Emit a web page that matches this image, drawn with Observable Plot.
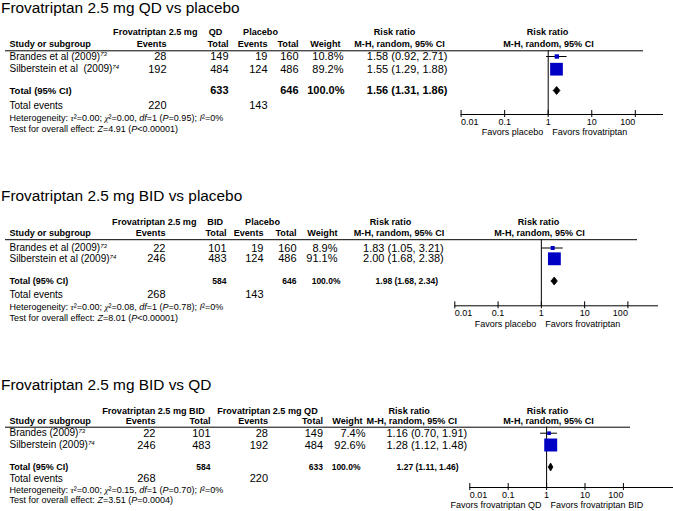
<!DOCTYPE html>
<html><head><meta charset="utf-8">
<script src="https://cdn.jsdelivr.net/npm/d3@7"></script>
<script src="https://cdn.jsdelivr.net/npm/@observablehq/plot@0.6"></script>
<style>
html,body{margin:0;padding:0;background:#fff;}
#chart{width:673px;height:511px;overflow:hidden;background:#fff;}
#chart svg{display:block;}
</style></head><body><div id="chart"></div>
<script>
// ---------------- DATA ----------------
const panelTitles = ["Frovatriptan 2.5 mg QD vs placebo", "Frovatriptan 2.5 mg BID vs placebo", "Frovatriptan 2.5 mg BID vs QD"];
const groupHeaders = [["Frovatriptan 2.5 mg", "QD", "Placebo"], ["Frovatriptan 2.5 mg", "BID", "Placebo"], ["Frovatriptan 2.5 mg BID", "Frovatriptan 2.5 mg QD"]];
const columnHeaders = ["Study or subgroup", "Events", "Total", "Events", "Total", "Weight", "M-H, random, 95% CI"];
const effectHeader = "Risk ratio";
const studyNames = [
  ["Brandes et al (2009)^73^", "Silberstein et al\u00a0 (2009)^74^"],
  ["Brandes et al (2009)^73^", "Silberstein et al (2009)^74^"],
  ["Brandes (2009)^73^", "Silberstein (2009)^74^"]
];
const expEvents = [[28, 192], [22, 246], [22, 246]];
const expTotals = [[149, 484], [101, 483], [101, 483]];
const ctlEvents = [[19, 124], [19, 124], [28, 192]];
const ctlTotals = [[160, 486], [160, 486], [149, 484]];
const weights = [[10.8, 89.2], [8.9, 91.1], [7.4, 92.6]];
const riskRatios = [[1.58, 1.55], [1.83, 2.00], [1.16, 1.28]];
const ciLower = [[0.92, 1.29], [1.05, 1.68], [0.70, 1.12]];
const ciUpper = [[2.71, 1.88], [3.21, 2.38], [1.91, 1.48]];
const pooledRR = [1.56, 1.98, 1.27];
const pooledLower = [1.31, 1.68, 1.11];
const pooledUpper = [1.86, 2.34, 1.46];
const totalWeight = [100.0, 100.0, 100.0];
const totalExpN = [633, 584, 584];
const totalCtlN = [646, 646, 633];
const totalExpEvents = [220, 268, 268];
const totalCtlEvents = [143, 143, 220];
const heterogeneity = [
  "Heterogeneity: #\u03c4#\u00b2=0.00; #\u03c7#\u00b2=0.00, *df*=1 (*P*=0.95); *I*\u00b2=0%",
  "Heterogeneity: #\u03c4#\u00b2=0.00; #\u03c7#\u00b2=0.08, *df*=1 (*P*=0.78); *I*\u00b2=0%",
  "Heterogeneity: #\u03c4#\u00b2=0.00; #\u03c7#\u00b2=0.15, *df*=1 (*P*=0.70); *I*\u00b2=0%"
];
const overallEffect = [
  "Test for overall effect: *Z*=4.91 (*P*<0.00001)",
  "Test for overall effect: *Z*=8.01 (*P*<0.00001)",
  "Test for overall effect: *Z*=3.51 (*P*=0.0004)"
];
const favorsLabels = [["Favors placebo", "Favors frovatriptan"], ["Favors placebo", "Favors frovatriptan"], ["Favors frovatriptan QD", "Favors frovatriptan BID"]];
const tickValues = [0.01, 0.1, 1, 10, 100];
const tickLabels = ["0.01", "0.1", "1", "10", "100"];

// ---------------- LAYOUT (positions / styles) ----------------
const FONT = '"Liberation Sans", Arial, Helvetica, sans-serif';
const SZ = {title: 15.4, head: 9.1, name: 10, num: 11, note: 9, tick: 9, favors: 9};
const SQUARE = "#0000c4";
const layouts = [
  {top: 0, height: 186, title: 7.5, h1: 31.7, h2: 43.3, line: 50.3, rows: [56, 68.7], total: 90, events: 105, het: 117.5, test: 128.3,
   axis: 114, tickY: 121.5, favorsY: 131.7, xRange: [460.6, 634.8], axisEnd: 663, lineX: [5, 643],
   grp: [[197, "end"], [215, "middle"], [260, "middle"]],
   c: {name: 9, expEv: 166, expTot: 228, ctlEv: 267, ctlTot: 298, wHead: 340, w: 343, totW: 344, rrH1: 394, rrH2: 399, rr: 447, totRR: 447, fH: 547},
   totSize: 11, totLabelSize: 9.5},
  {top: 186, height: 186, title: 195.5, h1: 221.3, h2: 232.3, line: 239.2, rows: [247.5, 258.3], total: 280.5, events: 294.3, het: 307, test: 317.3,
   axis: 305.3, tickY: 313, favorsY: 323.3, xRange: [454.3, 627.4], axisEnd: 658, lineX: [5, 637],
   grp: [[196, "end"], [214.7, "middle"], [262, "middle"]],
   c: {name: 9, expEv: 165, expTot: 226, ctlEv: 263, ctlTot: 296, wHead: 337, w: 337, totW: 340, rrH1: 390, rrH2: 398.5, rr: 443.3, totRR: 437.5, fH: 538},
   totSize: 8.5, totLabelSize: 9},
  {top: 372, height: 139, title: 385, h1: 410.3, h2: 421, line: 426.7, rows: [432.7, 444.5], total: 466.5, events: 478.3, het: 490, test: 500,
   axis: 487, tickY: 495, favorsY: 505, xRange: [469.3, 622.9], axisEnd: 673, lineX: [5, 630],
   grp: [[101.7, "start"], [216.7, "start"]],
   c: {name: 9, expEv: 155, expTot: 210, ctlEv: 267.5, ctlTot: 322.5, wHead: 362, w: 365, totW: 360, rrH1: 408.7, rrH2: 411.3, rr: 466.7, totRR: 458, fH: 547},
   totSize: 8.5, totLabelSize: 9}
];

const f2 = v => v.toFixed(2);
const rrText = (r, l, h) => `${f2(r)} (${f2(l)}, ${f2(h)})`;
const pct = w => w.toFixed(1) + "%";

function cell(t, y, px, anchor, size, weight = "normal") {
  return Plot.text([{t, y}], {text: "t", y: "y", frameAnchor: "left", dx: px, textAnchor: anchor,
    lineAnchor: "middle", fontSize: size, fontWeight: weight, fill: "#000"});
}

function buildPanel(i) {
  const L = layouts[i], c = L.c;
  const [r0, r1] = L.xRange;
  const xAt = px => Math.pow(10, -2 + 4 * (px - r0) / (r1 - r0)); // layout pixel -> x value
  const onePx = (r0 + r1) / 2;
  const marks = [];

  // title
  marks.push(cell(panelTitles[i], L.title, 0.5, "start", SZ.title));

  // group headers (row 1)
  groupHeaders[i].forEach((g, k) => marks.push(cell(g, L.h1, L.grp[k][0], L.grp[k][1], SZ.head, "bold")));
  marks.push(cell(effectHeader, L.h1, c.rrH1, "middle", SZ.head, "bold"));
  marks.push(cell(effectHeader, L.h1, c.fH, "middle", SZ.head, "bold"));

  // column headers (row 2)
  const hdrPos = [[c.name, "start"], [c.expEv, "end"], [c.expTot, "end"], [c.ctlEv, "end"], [c.ctlTot, "end"], [c.wHead, "end"], [c.rrH2, "middle"]];
  columnHeaders.forEach((h, k) => marks.push(cell(h, L.h2, hdrPos[k][0], hdrPos[k][1], SZ.head, "bold")));
  marks.push(cell(columnHeaders[6], L.h2, c.fH + 1, "middle", SZ.head, "bold"));

  // study rows
  studyNames[i].forEach((name, j) => {
    const y = L.rows[j];
    marks.push(cell(name, y, c.name, "start", SZ.name));
    marks.push(cell(String(expEvents[i][j]), y, c.expEv, "end", SZ.num));
    marks.push(cell(String(expTotals[i][j]), y, c.expTot, "end", SZ.num));
    marks.push(cell(String(ctlEvents[i][j]), y, c.ctlEv, "end", SZ.num));
    marks.push(cell(String(ctlTotals[i][j]), y, c.ctlTot, "end", SZ.num));
    marks.push(cell(pct(weights[i][j]), y, c.w, "end", SZ.num));
    marks.push(cell(rrText(riskRatios[i][j], ciLower[i][j], ciUpper[i][j]), y, c.rr, "end", SZ.num));
  });

  // total row
  marks.push(cell("Total (95% CI)", L.total, c.name, "start", L.totLabelSize, "bold"));
  marks.push(cell(String(totalExpN[i]), L.total, c.expTot, "end", L.totSize, "bold"));
  marks.push(cell(String(totalCtlN[i]), L.total, c.ctlTot, "end", L.totSize, "bold"));
  marks.push(cell(pct(totalWeight[i]), L.total, c.totW, "end", L.totSize, "bold"));
  marks.push(cell(rrText(pooledRR[i], pooledLower[i], pooledUpper[i]), L.total, c.totRR, "end", L.totSize, "bold"));

  // total events
  marks.push(cell("Total events", L.events, c.name, "start", SZ.name));
  marks.push(cell(String(totalExpEvents[i]), L.events, c.expEv, "end", SZ.num));
  marks.push(cell(String(totalCtlEvents[i]), L.events, c.ctlEv, "end", SZ.num));

  // notes
  marks.push(cell(heterogeneity[i], L.het, c.name, "start", SZ.note));
  marks.push(cell(overallEffect[i], L.test, c.name, "start", SZ.note));

  // header rule
  marks.push(Plot.ruleY([L.line], {x1: () => xAt(L.lineX[0]), x2: () => xAt(L.lineX[1]), stroke: "#000", strokeWidth: 1}));

  // forest: line of no effect, axis, ticks
  marks.push(Plot.ruleX([1], {y1: () => L.line, y2: () => L.axis, stroke: "#000", strokeWidth: 1}));
  marks.push(Plot.ruleY([L.axis], {x1: () => tickValues[0], x2: () => xAt(L.axisEnd), stroke: "#000", strokeWidth: 1}));
  marks.push(Plot.ruleX(tickValues, {y1: () => L.axis - 4, y2: () => L.axis + 3, stroke: "#000", strokeWidth: 1}));
  const tks = tickValues.map((v, k) => ({v, t: tickLabels[k], y: L.tickY}));
  const last = tks.length - 1;
  marks.push(Plot.text(tks.slice(0, 1), {x: "v", y: "y", text: "t", textAnchor: "start", fontSize: SZ.tick, fill: "#000"}));
  marks.push(Plot.text(tks.slice(1, last), {x: "v", y: "y", text: "t", textAnchor: "middle", fontSize: SZ.tick, fill: "#000"}));
  marks.push(Plot.text(tks.slice(last), {x: "v", y: "y", text: "t", textAnchor: "end", fontSize: SZ.tick, fill: "#000"}));
  marks.push(cell(favorsLabels[i][0], L.favorsY, onePx - 5, "end", SZ.favors));
  marks.push(cell(favorsLabels[i][1], L.favorsY, onePx + 4, "start", SZ.favors));

  // study estimates
  const studies = studyNames[i].map((_, j) => ({rr: riskRatios[i][j], lo: ciLower[i][j], hi: ciUpper[i][j], w: weights[i][j], y: L.rows[j]}));
  marks.push(Plot.ruleY(studies, {y: "y", x1: "lo", x2: "hi", stroke: "#000", strokeWidth: 1}));
  marks.push(Plot.dot(studies, {x: "rr", y: "y", r: "w", symbol: "square", fill: SQUARE, stroke: "none"}));

  // pooled diamond
  const hh = 4;
  const yc = L.total;
  const diamond = [
    {x: pooledLower[i], y: yc}, {x: pooledRR[i], y: yc - hh}, {x: pooledUpper[i], y: yc},
    {x: pooledRR[i], y: yc + hh}, {x: pooledLower[i], y: yc}
  ];
  marks.push(Plot.line(diamond, {x: "x", y: "y", fill: "#000", stroke: "#000", strokeWidth: 0.8}));

  const svg = Plot.plot({
    width: 673, height: L.height,
    marginTop: 0, marginRight: 0, marginBottom: 0, marginLeft: 0,
    x: {type: "log", domain: [0.01, 100], range: L.xRange, axis: null},
    y: {type: "linear", domain: [L.top, L.top + L.height], range: [0, L.height], axis: null},
    r: {type: "sqrt", domain: [0, 100], range: [0, 7.6]},
    style: {fontFamily: FONT, color: "#000", background: "#fff", overflow: "visible"},
    marks
  });
  enrich(svg);
  return svg;
}

// rich text: *italic*, #italic serif#, ^superscript^
function enrich(svg) {
  const NS = "http://www.w3.org/2000/svg";
  svg.querySelectorAll("text").forEach(t => {
    const s = t.textContent;
    if (!/[*#^]/.test(s)) return;
    const parts = s.split(/(\*[^*]+\*|#[^#]+#|\^[^^]+\^)/g).filter(p => p !== "");
    while (t.firstChild) t.removeChild(t.firstChild);
    let raised = false;
    for (const p of parts) {
      const ts = document.createElementNS(NS, "tspan");
      let txt = p;
      if (p[0] === "*") {
        txt = p.slice(1, -1); ts.setAttribute("font-style", "italic");
      } else if (p[0] === "#") {
        txt = p.slice(1, -1); ts.setAttribute("font-style", "italic");
        ts.setAttribute("font-family", '"Liberation Serif", "Times New Roman", serif');
      } else if (p[0] === "^") {
        txt = p.slice(1, -1); ts.setAttribute("font-size", "0.6em"); ts.setAttribute("font-style", "italic");
        ts.setAttribute("dy", "-0.55em"); raised = true;
      }
      if (p[0] !== "^" && raised) { ts.setAttribute("dy", "0.33em"); raised = false; }
      ts.textContent = txt;
      t.appendChild(ts);
    }
  });
}

const root = document.getElementById("chart");
for (let i = 0; i < 3; i++) root.appendChild(buildPanel(i));
</script></body></html>
